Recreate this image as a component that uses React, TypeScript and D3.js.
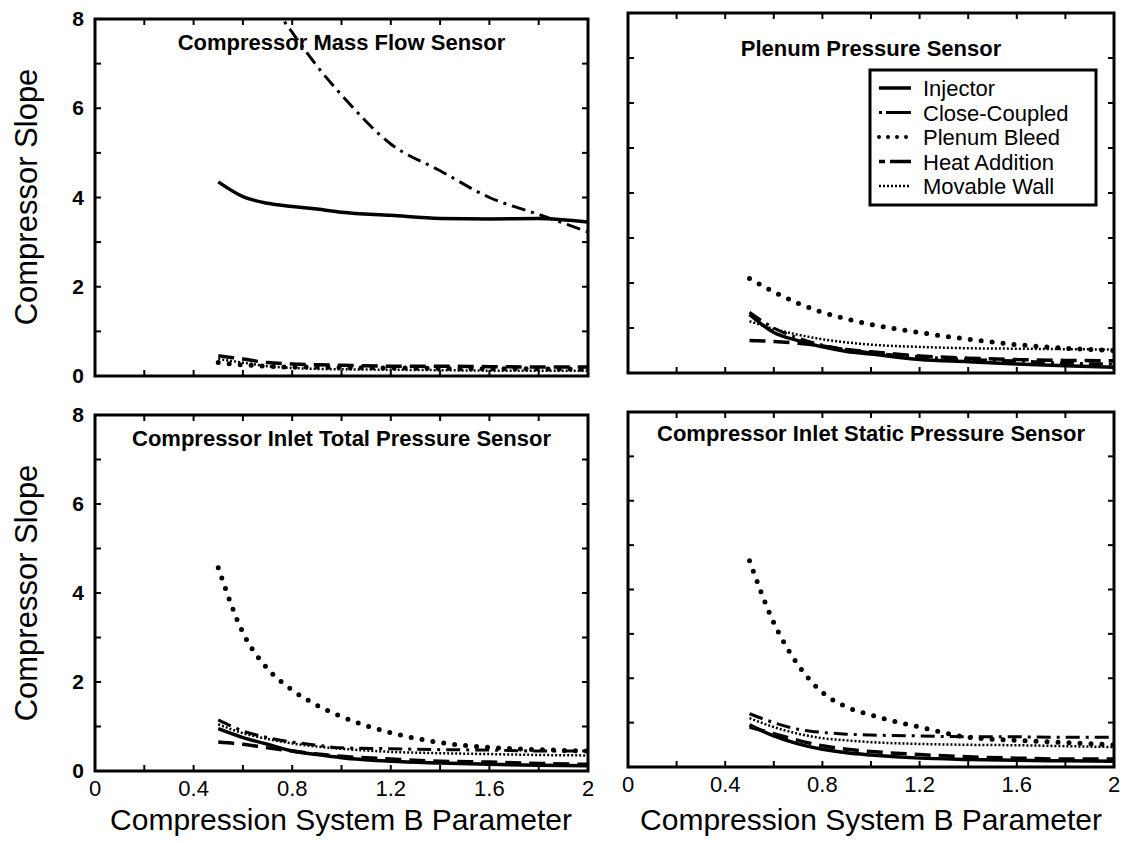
import React from 'react';
import * as d3 from 'd3';

// B parameter sample points shared by every curve
const bValues = [0.5, 0.6, 0.7, 0.8, 0.9, 1.0, 1.2, 1.4, 1.6, 1.8, 2.0];

const seriesNames = ['Injector', 'Close-Coupled', 'Plenum Bleed', 'Heat Addition', 'Movable Wall'];
const panelTitles = [
  'Compressor Mass Flow Sensor',
  'Plenum Pressure Sensor',
  'Compressor Inlet Total Pressure Sensor',
  'Compressor Inlet Static Pressure Sensor',
];
const xTickLabels = [0, 0.4, 0.8, 1.2, 1.6, 2];
const yTickLabels = [0, 2, 4, 6, 8];

// Compressor mass flow sensor
const massInjector = [4.35, 4.02, 3.87, 3.8, 3.74, 3.67, 3.6, 3.53, 3.52, 3.53, 3.45];
const massCloseCoupled = [10.6, 9.5, 8.5, 7.7, 6.95, 6.3, 5.2, 4.6, 4.0, 3.62, 3.23];
const massPlenumBleed = [0.3, 0.25, 0.22, 0.2, 0.2, 0.19, 0.18, 0.17, 0.16, 0.16, 0.15];
const massHeatAddition = [0.45, 0.38, 0.3, 0.27, 0.25, 0.24, 0.22, 0.22, 0.21, 0.2, 0.2];
const massMovableWall = [0.38, 0.3, 0.22, 0.18, 0.16, 0.15, 0.14, 0.13, 0.12, 0.12, 0.12];

// Plenum pressure sensor
const plenInjector = [1.3, 0.9, 0.72, 0.58, 0.48, 0.42, 0.3, 0.25, 0.2, 0.16, 0.13];
const plenCloseCoupled = [1.35, 1.0, 0.78, 0.62, 0.52, 0.45, 0.36, 0.3, 0.27, 0.22, 0.2];
const plenPlenumBleed = [2.1, 1.8, 1.55, 1.35, 1.2, 1.08, 0.9, 0.75, 0.63, 0.55, 0.5];
const plenHeatAddition = [0.72, 0.7, 0.66, 0.6, 0.52, 0.47, 0.38, 0.33, 0.3, 0.28, 0.27];
const plenMovableWall = [1.15, 0.98, 0.85, 0.75, 0.68, 0.63, 0.58, 0.55, 0.54, 0.53, 0.52];

// Compressor inlet total pressure sensor
const totalInjector = [0.95, 0.75, 0.6, 0.45, 0.37, 0.3, 0.22, 0.18, 0.15, 0.13, 0.12];
const totalCloseCoupled = [1.15, 0.9, 0.75, 0.65, 0.58, 0.52, 0.5, 0.48, 0.47, 0.45, 0.45];
const totalPlenumBleed = [4.57, 3.11, 2.3, 1.82, 1.48, 1.22, 0.86, 0.64, 0.53, 0.48, 0.45];
const totalHeatAddition = [0.65, 0.6, 0.52, 0.45, 0.38, 0.33, 0.27, 0.22, 0.2, 0.17, 0.15];
const totalMovableWall = [1.05, 0.85, 0.72, 0.62, 0.55, 0.5, 0.43, 0.4, 0.38, 0.36, 0.35];

// Compressor inlet static pressure sensor
const staticInjector = [0.95, 0.7, 0.52, 0.4, 0.32, 0.27, 0.2, 0.17, 0.15, 0.14, 0.13];
const staticCloseCoupled = [1.2, 1.0, 0.85, 0.78, 0.74, 0.72, 0.7, 0.68, 0.68, 0.67, 0.67];
const staticPlenumBleed = [4.65, 3.25, 2.3, 1.68, 1.35, 1.17, 0.9, 0.67, 0.6, 0.55, 0.5];
const staticHeatAddition = [0.9, 0.75, 0.6, 0.48, 0.4, 0.35, 0.28, 0.23, 0.2, 0.18, 0.18];
const staticMovableWall = [1.1, 0.9, 0.75, 0.65, 0.6, 0.56, 0.52, 0.5, 0.49, 0.47, 0.45];

const panelSeries = [
  [massInjector, massCloseCoupled, massPlenumBleed, massHeatAddition, massMovableWall],
  [plenInjector, plenCloseCoupled, plenPlenumBleed, plenHeatAddition, plenMovableWall],
  [totalInjector, totalCloseCoupled, totalPlenumBleed, totalHeatAddition, totalMovableWall],
  [staticInjector, staticCloseCoupled, staticPlenumBleed, staticHeatAddition, staticMovableWall],
];

const FONT = '"Liberation Sans", Arial, Helvetica, sans-serif';

const lineStyles = [
  { width: 3.5, dash: undefined, cap: 'butt' },        // Injector
  { width: 3, dash: '14,6,3,6', cap: 'butt' },         // Close-Coupled
  { width: 5, dash: '0,11', cap: 'round' },            // Plenum Bleed
  { width: 3.5, dash: '16,8', cap: 'butt' },           // Heat Addition
  { width: 2.5, dash: '2,2', cap: 'butt' },            // Movable Wall
];

const boxes = [
  { x0: 95, x1: 588, y0: 19, y1: 376, titleY: 50 },
  { x0: 628, x1: 1114, y0: 13, y1: 373, titleY: 56 },
  { x0: 95, x1: 588, y0: 415, y1: 771, titleY: 446 },
  { x0: 628, x1: 1114, y0: 412, y1: 767, titleY: 441 },
];

const Panel = ({ idx }: { idx: number }) => {
  const b = boxes[idx];
  const x = d3.scaleLinear().domain([0, 2]).range([b.x0, b.x1]);
  const y = d3.scaleLinear().domain([0, 8]).range([b.y1, b.y0]);
  const line = d3.line<number>()
    .x((_, i) => x(bValues[i]))
    .y(d => y(d))
    .curve(d3.curveMonotoneX);
  const showY = idx % 2 === 0;
  const showX = idx >= 2;
  const minorX = d3.range(0, 11).map(i => i * 0.2);
  const minorY = d3.range(0, 9);
  const tl = 6;
  const clipId = `clip-${idx}`;

  return (
    <g>
      <clipPath id={clipId}>
        <rect x={b.x0} y={b.y0} width={b.x1 - b.x0} height={b.y1 - b.y0} />
      </clipPath>
      <g clipPath={`url(#${clipId})`}>
        {panelSeries[idx].map((vals, s) => (
          <path key={s} d={line(vals) || ''} fill="none" stroke="#000"
            strokeWidth={lineStyles[s].width}
            strokeDasharray={lineStyles[s].dash}
            strokeLinecap={lineStyles[s].cap as any} />
        ))}
      </g>
      <rect x={b.x0} y={b.y0} width={b.x1 - b.x0} height={b.y1 - b.y0}
        fill="none" stroke="#000" strokeWidth={3} />
      {minorX.map((v, i) => (
        <g key={'tx' + i} stroke="#000" strokeWidth={2}>
          <line x1={x(v)} x2={x(v)} y1={b.y1} y2={b.y1 - tl} />
          <line x1={x(v)} x2={x(v)} y1={b.y0} y2={b.y0 + tl} />
        </g>
      ))}
      {minorY.map((v, i) => (
        <g key={'ty' + i} stroke="#000" strokeWidth={2}>
          <line x1={b.x0} x2={b.x0 + tl} y1={y(v)} y2={y(v)} />
          <line x1={b.x1} x2={b.x1 - tl} y1={y(v)} y2={y(v)} />
        </g>
      ))}
      {showY && yTickLabels.map(v => (
        <text key={'yl' + v} x={b.x0 - 11} y={y(v) + 7} textAnchor="end"
          fontFamily={FONT} fontWeight="bold" fontSize={21}>{v}</text>
      ))}
      {showX && xTickLabels.map(v => (
        <text key={'xl' + v} x={x(v)} y={b.y1 + 25} textAnchor="middle"
          fontFamily={FONT} fontSize={22}>{v}</text>
      ))}
      <text x={(b.x0 + b.x1) / 2} y={b.titleY} textAnchor="middle"
        fontFamily={FONT} fontWeight="bold" fontSize={22}>{panelTitles[idx]}</text>
    </g>
  );
};

const Legend = () => {
  const lx = 870, ly = 70, lw = 226, lh = 135;
  const rowY = d3.scaleLinear().domain([0, 4]).range([ly + 18, ly + 116]);
  return (
    <g>
      <rect x={lx} y={ly} width={lw} height={lh} fill="#fff" stroke="#000" strokeWidth={3} />
      {seriesNames.map((name, i) => (
        <g key={name}>
          <line x1={lx + 9} x2={lx + 41} y1={rowY(i)} y2={rowY(i)} stroke="#000"
            strokeWidth={i === 2 ? 4 : lineStyles[i].width}
            strokeDasharray={i === 2 ? '0,9' : i === 1 ? '3,4,25' : i === 3 ? '6,5,22' : lineStyles[i].dash}
            strokeLinecap={lineStyles[i].cap as any} />
          <text x={lx + 53} y={rowY(i) + 8} fontFamily={FONT} fontSize={22}>{name}</text>
        </g>
      ))}
    </g>
  );
};

export default function App() {
  const yTitleCenters = [197, 593];
  return (
    <svg width={1137} height={843} style={{ position: 'absolute', left: 0, top: 0, background: '#fff' }}>
      <rect width={1137} height={843} fill="#fff" />
      {[0, 1, 2, 3].map(i => <Panel key={i} idx={i} />)}
      <Legend />
      {yTitleCenters.map((cy, i) => (
        <text key={'yt' + i} transform={`translate(37,${cy}) rotate(-90)`} textAnchor="middle"
          fontFamily={FONT} fontSize={31}>Compressor Slope</text>
      ))}
      {[341, 871].map((cx, i) => (
        <text key={'xt' + i} x={cx} y={830} textAnchor="middle"
          fontFamily={FONT} fontSize={30}>Compression System B Parameter</text>
      ))}
    </svg>
  );
}
